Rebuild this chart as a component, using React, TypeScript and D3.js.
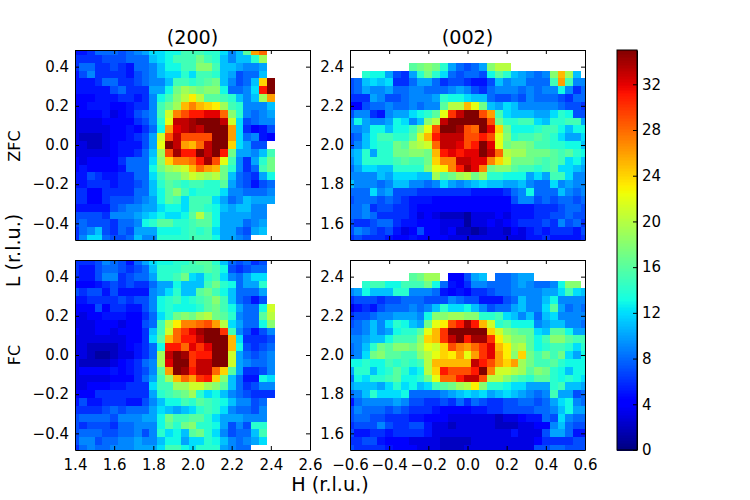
import React, { useEffect, useRef } from "react";
import * as d3 from "d3";

const _ = null;

// rows run top to bottom, columns left to right, one cell every 0.04 r.l.u.
const zfc200 = [
  [5,5,6,8,8,8,7,8,9,10,12,12,13,13,15,15,15,14,14,12,9,11,16,26,28],
  [6,6,6,6,7,7,7,8,8,8,11,12,13,15,15,15,17,15,14,11,9,11,11,14,19],
  [6,8,8,6,6,7,6,5,8,8,9,11,13,13,15,15,18,18,15,11,11,10,9,9,10],
  [5,7,9,6,6,6,6,5,7,8,9,11,12,12,14,12,15,15,14,11,10,7,8,8,11],
  [5,5,5,6,8,8,6,6,7,8,9,9,11,15,15,14,15,16,17,11,9,7,8,11,24,35],
  [5,5,5,5,5,7,8,6,6,6,10,10,13,17,19,18,17,18,18,13,8,8,9,12,31,35],
  [4,4,4,5,5,5,6,6,5,6,9,13,15,18,20,23,20,16,16,15,14,11,9,11,19,26],
  [4,4,5,5,5,4,4,5,6,6,9,15,17,19,25,27,25,24,23,19,15,14,9,9,9,11],
  [3,4,4,4,5,3,4,5,7,8,9,15,21,27,29,31,31,32,32,28,18,14,9,8,9,10],
  [3,3,3,3,4,4,4,4,6,7,9,14,22,33,33,34,35,35,35,33,21,12,7,8,9,9],
  [3,3,3,3,3,4,4,5,4,6,8,13,26,32,33,34,33,35,35,35,26,12,6,4,5,7],
  [3,2,2,2,3,4,4,5,6,7,10,21,29,33,29,29,29,29,35,35,26,12,8,9,5,4],
  [3,3,2,2,3,4,5,5,5,7,10,22,35,33,26,25,28,33,35,35,24,12,10,7,7],
  [3,3,3,3,3,4,5,5,6,8,11,19,29,34,31,31,35,33,35,31,17,10,10,9,11,15],
  [4,3,4,4,4,4,6,8,8,8,12,18,24,27,27,28,31,34,29,22,15,9,6,10,14,17],
  [4,5,4,4,4,4,5,8,8,8,13,17,19,20,21,25,28,26,25,17,14,9,6,8,15,17],
  [5,5,7,6,5,5,6,6,8,8,12,15,17,17,19,21,20,19,20,17,11,8,7,6,10,13],
  [5,5,6,6,6,5,6,6,7,8,11,14,16,15,14,15,15,14,14,16,10,8,7,5,7,8],
  [6,6,4,4,6,6,6,6,8,8,11,13,16,18,15,13,14,14,14,12,9,9,8,8,8,9],
  [6,6,4,4,6,7,7,7,8,9,10,13,16,15,12,15,15,15,12,10,8,9,11,10,10,10],
  [5,5,5,5,5,7,8,9,9,10,10,12,13,13,12,15,15,14,13,11,10,11,11,9,9],
  [7,7,7,7,6,9,9,9,10,11,12,13,12,12,13,16,20,16,13,10,10,10,10,9,9],
  [7,8,7,7,7,6,8,8,9,13,14,16,16,14,14,15,16,16,13,10,10,10,8,9,10],
  [6,8,9,11,7,6,8,7,10,10,10,13,13,13,14,15,14,15,12,10,10,8,7,10,11],
  [6,9,12,12,8,7,7,8,11,9,9,14,14,14,14,15,15,15,13,10,10,9,8],
];

const zfc002 = [
  [],
  [],
  [_,_,_,_,_,_,_,_,16,17,18,17,14,10,8,7,8,10,18,20,20],
  [_,_,14,13,13,10,7,6,10,14,17,14,12,8,7,8,8,7,13,16,14,11,10,9,8,9,18,25,19,11],
  [7,8,11,12,11,12,6,6,8,10,10,8,6,7,7,6,5,5,7,11,9,10,10,8,8,8,15,26,15,9,9],
  [7,8,10,9,9,10,8,8,9,9,8,8,8,9,10,9,7,6,8,9,9,9,8,9,8,9,9,13,9,6,8],
  [6,6,6,10,9,7,7,8,9,9,9,10,14,13,13,12,11,11,8,7,7,8,7,9,8,8,8,7,6,8,8],
  [4,4,7,8,8,9,8,8,9,8,9,9,16,20,20,25,22,17,11,10,12,11,9,9,9,9,9,8,7,7,6],
  [7,9,9,6,5,9,10,10,12,13,14,16,22,30,33,35,35,29,26,15,12,11,11,11,10,10,12,14,13,7,7],
  [9,13,10,9,9,10,13,12,9,11,18,20,33,35,35,35,35,35,29,17,14,14,15,15,12,11,14,14,15,15,10],
  [9,9,10,13,13,11,13,13,15,18,22,29,35,35,34,29,28,35,32,24,17,13,13,13,14,15,15,13,11,13,13],
  [7,8,11,13,15,15,14,14,16,21,25,31,33,33,33,29,29,31,29,22,18,14,15,15,16,15,14,12,10,10,12],
  [7,9,11,13,14,14,17,16,19,20,21,28,33,33,32,29,31,35,32,22,17,18,18,17,15,15,14,14,13,13,11],
  [10,11,14,10,14,14,17,17,18,18,17,25,31,32,31,32,32,35,33,28,20,19,19,17,17,17,16,15,16,14,13],
  [9,11,14,14,14,14,15,16,15,15,17,24,27,27,33,33,32,32,27,24,21,17,17,17,16,15,16,15,12,13,11],
  [8,10,12,12,11,11,14,14,14,14,18,22,23,27,31,34,32,27,17,18,18,16,15,15,14,15,16,12,12,11,10],
  [9,9,9,9,11,10,12,12,12,11,11,19,16,17,19,20,17,19,14,14,13,13,13,10,12,10,15,15,12,9,9],
  [11,9,9,9,8,9,11,11,9,9,8,9,12,10,9,10,11,12,11,11,10,10,11,9,8,8,12,9,10,9,9],
  [8,8,8,12,9,10,7,7,7,6,6,6,6,6,6,6,5,5,5,5,6,8,9,13,8,8,8,11,9,8,9],
  [7,8,8,8,7,8,7,6,5,5,5,4,4,4,4,4,4,4,4,4,4,7,9,9,7,8,7,8,8,7,8],
  [8,8,9,6,7,7,6,6,5,4,4,4,4,4,4,4,4,4,4,4,4,5,5,5,6,6,6,7,8,8,7],
  [8,8,9,8,6,6,6,6,5,3,4,3,2,2,2,1,3,3,3,4,3,5,5,5,6,6,7,7,8,7,7],
  [7,6,6,7,8,8,6,5,5,4,4,4,3,3,3,1,3,3,4,3,4,5,6,6,6,7,6,9,7,8,6],
  [7,9,8,7,6,7,5,3,4,7,4,4,3,4,2,2,1,2,3,3,2,4,3,5,6,5,6,6,6,5,7],
  [6,7,6,6,6,5,4,4,5,4,4,4,4,3,3,3,3,3,3,3,3,3,3,5,5,6,5,5,5,5,6],
];

const fc200 = [
  [6,6,6,7,9,8,7,5,8,10,12,13,13,14,14,15,16,16,14,11,8,7,8,6,7],
  [6,5,5,7,8,8,7,6,7,8,11,14,14,14,15,15,15,16,15,13,7,6,7,8,8],
  [6,5,5,7,9,9,6,7,8,8,10,14,14,15,17,12,11,14,15,12,9,8,10,12,12],
  [4,4,4,5,6,7,6,7,6,6,8,10,10,13,11,11,11,15,17,14,13,8,10,10,14],
  [7,6,7,7,5,7,5,5,5,5,9,10,12,14,11,11,16,17,15,13,11,8,8,8,10],
  [5,5,6,6,6,6,7,6,7,7,9,13,14,15,13,14,15,16,18,15,11,8,7,5,7],
  [4,4,4,7,4,6,6,5,5,7,9,13,14,13,13,13,14,16,17,15,13,10,8,8,13,21],
  [4,3,4,4,5,5,5,4,4,6,8,12,14,17,18,17,19,20,17,16,14,9,8,8,16,20],
  [3,3,3,4,4,4,3,4,4,7,8,15,20,23,27,27,28,29,26,20,12,10,8,8,13,18],
  [4,3,3,4,4,3,4,4,4,6,11,15,21,28,30,32,34,35,35,30,15,9,7,5,7,9],
  [3,3,3,3,3,3,3,4,4,6,12,16,25,28,31,31,33,35,35,35,25,12,6,6,6,7],
  [3,3,2,2,2,2,3,4,5,6,8,13,31,31,28,32,30,32,35,35,25,13,7,6,7,8],
  [3,3,2,1,1,2,3,3,5,6,8,19,33,35,34,30,31,31,35,35,21,10,8,7,8,9],
  [3,2,2,2,2,3,4,5,6,8,9,19,32,35,35,30,33,33,35,35,21,10,9,8,8,9],
  [3,4,4,4,4,5,4,5,6,7,9,16,26,35,34,31,33,33,28,24,16,10,6,6,7,9],
  [3,3,3,3,3,4,4,4,6,8,10,15,19,25,28,26,30,31,24,18,11,8,5,5,13,12],
  [3,3,4,4,4,5,5,6,6,6,12,15,15,19,19,21,21,19,18,16,11,8,6,7,9,9],
  [4,4,4,6,6,6,6,6,6,6,10,14,15,16,17,19,14,12,13,11,9,8,7,6,6,6],
  [5,7,5,5,6,6,6,5,5,7,9,11,13,13,15,14,16,15,14,13,11,9,9,7,8],
  [6,6,6,6,7,8,7,8,8,8,10,12,11,10,11,12,14,15,14,12,9,8,8,7,9],
  [7,8,8,8,8,7,9,9,9,10,10,13,17,15,15,16,16,14,12,10,10,10,9,9,9],
  [7,6,7,7,7,6,8,8,9,9,9,13,16,14,17,18,14,14,13,10,7,9,7,14,14],
  [7,8,8,8,7,7,8,8,9,7,9,14,12,13,11,16,17,14,12,9,7,8,8,11,15],
  [7,9,9,7,8,8,9,9,10,9,9,11,13,13,10,12,12,14,13,11,9,8,9,10,12],
  [6,8,9,8,8,9,9,9,10,10,10,12,15,15,13,12,14,14,14,10,9,8,8],
];

const fc002 = [
  [],
  [],
  [_,_,_,_,_,_,_,_,16,17,19,19,_,4,4,7,10,11,_,8,8,9,10,10],
  [_,_,14,15,15,13,13,15,15,15,17,13,8,5,4,6,9,9,8,8,8,9,10,9,8,8,9,13,18,18],
  [9,10,13,11,11,11,14,14,9,9,9,8,5,4,5,4,6,6,7,8,8,9,9,9,9,10,10,12,15,12,11],
  [6,7,7,7,6,7,7,8,8,8,7,7,7,9,8,7,7,5,5,5,7,8,11,9,9,11,13,9,9,9,9],
  [3,5,6,5,7,8,8,8,9,8,9,11,14,12,12,13,11,9,7,8,8,10,11,9,9,12,16,10,8,9,8],
  [6,7,7,8,9,9,10,10,10,9,13,18,18,19,19,18,18,14,14,15,12,11,9,11,8,11,12,9,9,9,9],
  [7,8,9,11,9,12,14,13,11,10,17,22,23,29,31,34,31,25,21,14,15,13,13,13,9,10,11,11,9,9,8],
  [8,8,9,11,9,10,13,14,14,16,22,25,30,35,35,35,35,35,24,21,18,17,16,16,12,11,16,16,13,10,10],
  [9,9,10,11,11,13,15,15,15,18,24,25,30,33,35,31,34,34,30,23,20,18,18,16,13,15,18,18,16,15,15],
  [8,9,11,14,17,16,18,18,17,19,22,21,24,29,27,26,28,30,32,25,23,19,20,16,13,14,15,15,14,12,14],
  [8,9,12,17,18,16,16,15,15,18,20,22,24,23,26,22,26,30,32,26,23,18,24,17,15,17,15,17,12,10,13],
  [13,13,14,13,13,15,14,15,14,15,20,25,25,25,25,25,33,31,29,26,24,26,19,17,15,15,16,14,13,13,13],
  [10,14,14,11,13,14,16,14,12,13,20,24,31,29,29,29,31,35,27,21,21,20,19,16,18,17,14,13,11,13,13],
  [8,13,12,14,14,15,16,13,13,14,17,22,28,28,31,33,33,29,20,20,18,16,15,14,16,16,14,13,14,13,12],
  [10,11,11,11,10,12,14,12,13,11,12,15,16,17,19,20,23,18,14,14,13,12,12,10,10,10,14,15,11,11,10],
  [8,9,11,14,12,12,12,13,8,8,8,8,9,10,11,12,11,12,10,11,12,11,10,9,8,9,15,10,10,7,8],
  [5,8,9,9,9,9,10,9,7,7,6,6,7,6,8,6,8,7,6,6,7,7,8,8,7,8,10,12,13,9,8],
  [7,9,8,8,8,7,8,7,6,6,6,5,4,4,4,4,5,5,6,6,7,7,7,7,8,8,9,11,13,10,10],
  [7,8,8,7,7,6,6,6,5,5,4,4,4,3,3,3,3,3,3,2,3,3,4,5,5,8,7,12,9,8,8],
  [6,7,7,7,9,7,6,6,7,7,5,3,3,2,3,3,3,3,3,2,2,2,3,3,4,4,9,11,8,7,7],
  [7,5,5,6,6,5,6,6,6,6,5,3,3,3,3,3,3,3,3,3,3,5,3,3,3,7,10,10,8,5,5],
  [6,6,7,7,5,4,4,4,3,3,3,3,2,2,2,2,3,3,3,3,3,3,3,3,4,6,6,6,6,7,7],
  [7,6,6,6,6,5,4,4,4,3,3,3,2,2,2,3,3,3,3,3,3,3,3,3,7,7,8,8,7,7,7],
];

const ticksH200 = [1.4, 1.6, 1.8, 2.0, 2.2, 2.4, 2.6];
const ticksH002 = [-0.6, -0.4, -0.2, 0.0, 0.2, 0.4, 0.6];
const ticksL200 = [-0.4, -0.2, 0.0, 0.2, 0.4];
const ticksL002 = [1.6, 1.8, 2.0, 2.2, 2.4];
const ticksColor = [0, 4, 8, 12, 16, 20, 24, 28, 32];

const vmax = 35;
const font = "'DejaVu Sans', sans-serif";
const tickFont = "15px";

// matplotlib's jet, channel by channel
const jetR = d3.scaleLinear().domain([0, 0.35, 0.66, 0.89, 1]).range([0, 0, 1, 1, 0.5]).clamp(true);
const jetG = d3.scaleLinear().domain([0, 0.125, 0.375, 0.64, 0.91, 1]).range([0, 0, 1, 1, 0, 0]).clamp(true);
const jetB = d3.scaleLinear().domain([0, 0.11, 0.34, 0.65, 1]).range([0.5, 1, 1, 0, 0]).clamp(true);
const jet = (v: number) => {
  const t = v / vmax;
  return d3.rgb(jetR(t) * 255, jetG(t) * 255, jetB(t) * 255).formatRgb();
};

const panels = [
  { id: "a", rows: zfc200, left: 75, top: 50, xTicks: ticksH200, yTicks: ticksL200, x0: 1.4, y0: 0, title: "(200)", xLabels: false },
  { id: "b", rows: zfc002, left: 350, top: 50, xTicks: ticksH002, yTicks: ticksL002, x0: -0.6, y0: 2, title: "(002)", xLabels: false },
  { id: "c", rows: fc200, left: 75, top: 260, xTicks: ticksH200, yTicks: ticksL200, x0: 1.4, y0: 0, title: "", xLabels: true },
  { id: "d", rows: fc002, left: 350, top: 260, xTicks: ticksH002, yTicks: ticksL002, x0: -0.6, y0: 2, title: "", xLabels: true },
];

const pw = 235;
const ph = 190;
const step = 0.04;
const halfRange = 0.485;

export default function App() {
  const svgRef = useRef<SVGSVGElement>(null);

  useEffect(() => {
    const svg = d3.select(svgRef.current);
    svg.selectAll("*").remove();

    panels.forEach((p) => {
      const x = d3.scaleLinear().domain([p.x0, p.x0 + 1.2]).range([p.left, p.left + pw]);
      const y = d3.scaleLinear().domain([p.y0 - halfRange, p.y0 + halfRange]).range([p.top + ph, p.top]);

      svg
        .append("clipPath")
        .attr("id", "clip-" + p.id)
        .append("rect")
        .attr("x", p.left)
        .attr("y", p.top)
        .attr("width", pw)
        .attr("height", ph);

      const cells = p.rows.flatMap((row, i) =>
        row.map((v, j) => ({ v, h: p.x0 + j * step, l: p.y0 + 0.48 - i * step })).filter((d) => d.v !== null)
      );

      svg
        .append("g")
        .attr("clip-path", `url(#clip-${p.id})`)
        .selectAll("rect")
        .data(cells)
        .join("rect")
        .attr("x", (d) => x(d.h - step / 2))
        .attr("y", (d) => y(d.l + step / 2))
        .attr("width", x(p.x0 + step) - x(p.x0))
        .attr("height", y(p.y0) - y(p.y0 + step))
        .attr("fill", (d) => jet(d.v as number))
        .attr("shape-rendering", "crispEdges");

      // ticks point inward on all four sides
      const bottom = d3.axisBottom(x).tickValues(p.xTicks).tickSize(-4).tickSizeOuter(0).tickPadding(9.5);
      bottom.tickFormat(p.xLabels ? d3.format(".1f") : () => "");
      const top = d3.axisTop(x).tickValues(p.xTicks).tickSize(-4).tickSizeOuter(0).tickFormat(() => "");
      const left = d3.axisLeft(y).tickValues(p.yTicks).tickSize(-4).tickSizeOuter(0).tickPadding(6).tickFormat(d3.format(".1f"));
      const right = d3.axisRight(y).tickValues(p.yTicks).tickSize(-4).tickSizeOuter(0).tickFormat(() => "");

      const axes = [
        svg.append("g").attr("transform", `translate(0,${p.top + ph})`).call(bottom),
        svg.append("g").attr("transform", `translate(0,${p.top})`).call(top),
        svg.append("g").attr("transform", `translate(${p.left},0)`).call(left),
        svg.append("g").attr("transform", `translate(${p.left + pw},0)`).call(right),
      ];
      axes.forEach((g) => g.selectAll("text").style("font-family", font).style("font-size", tickFont).attr("fill", "#000"));

      if (p.title) {
        svg
          .append("text")
          .attr("x", p.left + pw / 2)
          .attr("y", p.top - 6.5)
          .attr("text-anchor", "middle")
          .style("font-family", font)
          .style("font-size", "19.2px")
          .text(p.title);
      }
    });

    // colorbar
    const cbLeft = 617;
    const cbWidth = 20;
    const c = d3.scaleLinear().domain([0, vmax]).range([450, 50]);
    const stops = d3.range(0, vmax, vmax / 256);
    svg
      .append("g")
      .selectAll("rect")
      .data(stops)
      .join("rect")
      .attr("x", cbLeft)
      .attr("y", (d) => c(d + vmax / 256))
      .attr("width", cbWidth)
      .attr("height", c(0) - c(vmax / 256) + 0.5)
      .attr("fill", (d) => jet(d))
      .attr("shape-rendering", "crispEdges");

    const cbAxis = d3.axisRight(c).tickValues(ticksColor).tickSize(-4).tickSizeOuter(0).tickPadding(5);
    const cbRight = svg.append("g").attr("transform", `translate(${cbLeft + cbWidth},0)`).call(cbAxis);
    cbRight.selectAll("text").style("font-family", font).style("font-size", tickFont).attr("fill", "#000");
    svg
      .append("rect")
      .attr("x", cbLeft)
      .attr("y", 50)
      .attr("width", cbWidth)
      .attr("height", 400)
      .attr("fill", "none")
      .attr("stroke", "#000");

    const label = (txt: string, px: number, py: number, size: number, rotate: boolean) => {
      svg
        .append("text")
        .attr("text-anchor", "middle")
        .attr("transform", `translate(${px},${py})${rotate ? " rotate(-90)" : ""}`)
        .style("font-family", font)
        .style("font-size", size + "px")
        .text(txt);
    };
    label("H (r.l.u.)", 330, 491, 19.2, false);
    label("L (r.l.u.)", 20, 250.5, 19.2, true);
    label("ZFC", 20, 146, 16, true);
    label("FC", 20, 355, 16, true);
  }, []);

  return <svg ref={svgRef} width={750} height={500} style={{ position: "absolute", left: 0, top: 0 }}></svg>;
}
